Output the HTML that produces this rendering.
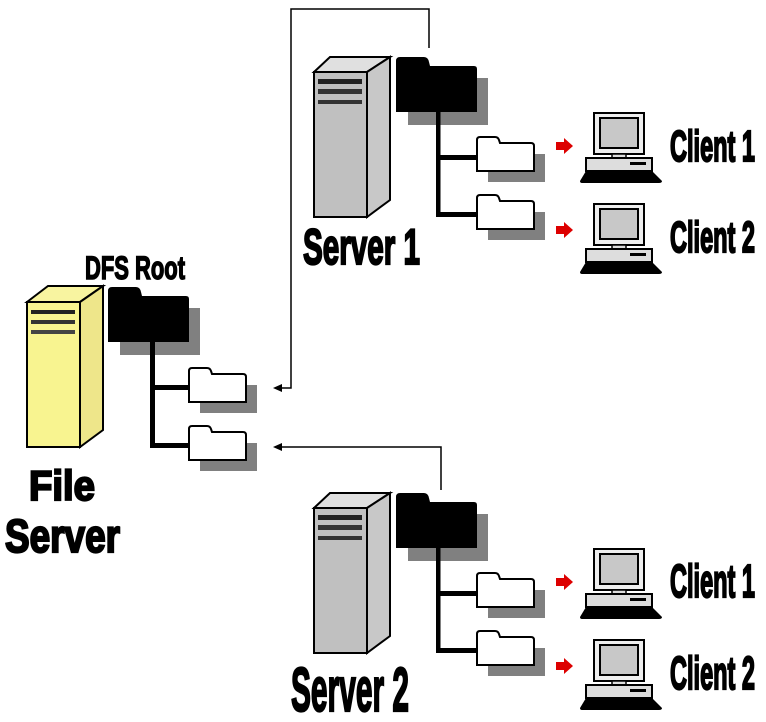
<!DOCTYPE html>
<html><head><meta charset="utf-8"><style>
html,body{margin:0;padding:0;background:#fff;}
svg{display:block;}
text{font-family:"Liberation Sans Narrow","Liberation Sans",sans-serif;font-weight:bold;fill:#000;stroke:#000;stroke-width:2.2;}
</style></head><body>
<svg width="766" height="722" viewBox="0 0 766 722" xmlns="http://www.w3.org/2000/svg">
<defs>
  <g id="bigfolder">
    <rect x="12" y="21" width="80" height="47" fill="#808080"/>
    <path d="M0,4 Q0,0 4,0 L28,0 Q32,0 33,5 L34,9 L78,9 Q81,9 81,12 L81,55 L0,55 Z" fill="#000"/>
  </g>
  <g id="smallfolder">
    <rect x="12" y="18" width="57" height="28" fill="#808080"/>
    <path d="M1,4 Q1,1 4,1 L19,1 Q22,1 23,4 L24,7 L55,7 Q58,7 58,10 L58,35 L1,35 Z" fill="#fff" stroke="#000" stroke-width="2"/>
  </g>
  <g id="pc">
    <rect x="14" y="0" width="50" height="41" fill="#eee" stroke="#000" stroke-width="2"/>
    <rect x="20" y="5" width="38" height="30" fill="#c8c8c8" stroke="#000" stroke-width="2"/>
    <rect x="32" y="41" width="14" height="4" fill="#ddd" stroke="#000" stroke-width="1.5"/>
    <rect x="6" y="45" width="66" height="13" fill="#ddd" stroke="#000" stroke-width="2"/>
    <rect x="50" y="49" width="16" height="3" fill="#000"/>
    <path d="M6,58 L72,58 L82,68 Q82,70 79,70 L2,70 Q0,70 0,68 Z" fill="#000"/>
  </g>
  <g id="tower">
    <path d="M0,15 L16,0 L76,0 L53,15 Z" fill="#e0e0e0" stroke="#000" stroke-width="2"/>
    <path d="M53,15 L76,0 L76,143 L53,160 Z" fill="#c8c8c8" stroke="#000" stroke-width="2"/>
    <rect x="0" y="15" width="53" height="145" fill="#c0c0c0" stroke="#000" stroke-width="2"/>
    <rect x="4" y="22" width="44" height="5" fill="#222"/>
    <rect x="4" y="32" width="44" height="5" fill="#333"/>
    <rect x="4" y="43" width="44" height="4" fill="#333"/>
  </g>
  <g id="redarrow">
    <path d="M0,-4 L8,-4 L8,-8 L17,0 L8,8 L8,4 L0,4 Z" fill="#d00"/>
  </g>
  <g id="serverset">
    <use href="#tower" x="314" y="57"/>
    <use href="#bigfolder" x="396" y="57"/>
    <rect x="436" y="110" width="4.5" height="107" fill="#000"/>
    <rect x="436" y="155" width="42" height="5" fill="#000"/>
    <rect x="436" y="212" width="42" height="5" fill="#000"/>
    <use href="#smallfolder" x="476" y="136"/>
    <use href="#smallfolder" x="476" y="194"/>
    <use href="#redarrow" x="556" y="146"/>
    <use href="#redarrow" x="556" y="230"/>
    <use href="#pc" x="580" y="113"/>
    <use href="#pc" x="580" y="204"/>
  </g>
</defs>

<polyline points="429,48 429,9 291,9 291,388 280,388" fill="none" stroke="#000" stroke-width="1.5"/>
<path d="M273,388 L282,384 L282,392 Z" fill="#000"/>
<polyline points="441,490 441,447 280,447" fill="none" stroke="#000" stroke-width="1.5"/>
<path d="M273,447 L282,443 L282,451 Z" fill="#000"/>

<use href="#serverset"/>
<use href="#serverset" y="436"/>

<g>
  <path d="M27,302 L48,286 L103,286 L80,302 Z" fill="#f8f4a0" stroke="#000" stroke-width="2"/>
  <path d="M80,302 L103,286 L103,430 L80,447 Z" fill="#eee68a" stroke="#000" stroke-width="2"/>
  <rect x="27" y="302" width="53" height="145" fill="#f8f490" stroke="#000" stroke-width="2"/>
  <rect x="31" y="310" width="44" height="4" fill="#222"/>
  <rect x="31" y="320" width="44" height="4" fill="#333"/>
  <rect x="31" y="330" width="44" height="4" fill="#444"/>
</g>
<use href="#bigfolder" x="108" y="287"/>
<rect x="150" y="340" width="5" height="107" fill="#000"/>
<rect x="150" y="385" width="40" height="5" fill="#000"/>
<rect x="150" y="443" width="40" height="5" fill="#000"/>
<use href="#smallfolder" x="188" y="367"/>
<use href="#smallfolder" x="188" y="425"/>

<text x="85" y="279" font-size="32" textLength="100" lengthAdjust="spacingAndGlyphs" style="stroke-width:1.5">DFS Root</text>
<text x="29" y="500" font-size="42" textLength="66" lengthAdjust="spacingAndGlyphs">File</text>
<text x="5" y="552" font-size="46" textLength="115" lengthAdjust="spacingAndGlyphs">Server</text>
<text x="303" y="264" font-size="50" textLength="117" lengthAdjust="spacingAndGlyphs">Server 1</text>
<text x="291" y="711" font-size="62" textLength="118" lengthAdjust="spacingAndGlyphs">Server 2</text>
<text x="670" y="161" font-size="44" textLength="85" lengthAdjust="spacingAndGlyphs">Client 1</text>
<text x="670" y="252" font-size="44" textLength="85" lengthAdjust="spacingAndGlyphs">Client 2</text>
<text x="670" y="597" font-size="46" textLength="85" lengthAdjust="spacingAndGlyphs">Client 1</text>
<text x="670" y="689" font-size="46" textLength="85" lengthAdjust="spacingAndGlyphs">Client 2</text>
</svg>
</body></html>
